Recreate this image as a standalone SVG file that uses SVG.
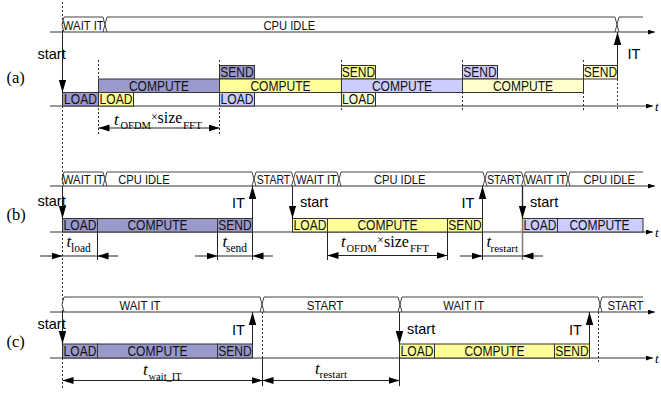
<svg xmlns="http://www.w3.org/2000/svg" width="661" height="395" viewBox="0 0 661 395">
<style>
.ax{stroke:#333;stroke-width:1;fill:none}
.sb{stroke:#444;stroke-width:1;fill:none}
.dot{stroke:#333;stroke-width:1;stroke-dasharray:2 2;fill:none}
.ln{stroke:#222;stroke-width:1;fill:none}
.bx{stroke:#333;stroke-width:1}
.b1{fill:#9999cc}.b2{fill:#ffff99}.b3{fill:#ccccff}.b4{fill:#ffffcc}
.bt{font-family:"Liberation Sans",Arial,sans-serif;font-size:14px;fill:#111;text-anchor:middle}
.st{font-family:"Liberation Sans",Arial,sans-serif;font-size:13px;fill:#111;text-anchor:middle}
.lb{font-family:"Liberation Sans",Arial,sans-serif;font-size:14.5px;fill:#000}
.pl{font-family:"Liberation Serif","Times New Roman",serif;font-size:16.5px;fill:#000}
.mt{font-family:"Liberation Serif","Times New Roman",serif;font-size:17px;font-style:italic;fill:#000}
.mr{font-family:"Liberation Serif","Times New Roman",serif;font-size:16px;fill:#000}
.sub{font-family:"Liberation Serif","Times New Roman",serif;font-size:11px;fill:#000}
.tx{font-family:"Liberation Serif","Times New Roman",serif;font-size:13px;font-style:italic;fill:#000}
</style>
<defs>
<marker id="ah" markerUnits="userSpaceOnUse" markerWidth="14" markerHeight="8" refX="13" refY="3.75" orient="auto"><path d="M0,0 L13,3.75 L0,7.5 z" fill="#000"/></marker>
<marker id="dh" markerUnits="userSpaceOnUse" markerWidth="12" markerHeight="8" refX="11" refY="3.5" orient="auto-start-reverse"><path d="M0,0 L11,3.5 L0,7 z" fill="#000"/></marker>
<marker id="axh" markerUnits="userSpaceOnUse" markerWidth="8" markerHeight="6" refX="7" refY="2.5" orient="auto"><path d="M0,0 L7,2.5 L0,5 z" fill="#000"/></marker>
</defs>

<g id="guides">
<path class="dot" d="M62.5,2 V390"/>
<path class="dot" d="M98.5,60 V135 M219.5,60 V135 M341.5,60 V110 M462.5,60 V110 M583.5,60 V110 M617.5,79 V110"/>
<path class="dot" d="M262.5,312 V358 M598.5,312 V362"/>
</g>

<g id="axes">
<path class="ax" d="M50,32 H655" marker-end="url(#axh)"/>
<path class="ax" d="M50,106 H653" marker-end="url(#axh)"/>
<path class="ax" d="M50,186 H655" marker-end="url(#axh)"/>
<path class="ax" d="M50,232 H653" marker-end="url(#axh)"/>
<path class="ax" d="M50,312 H655" marker-end="url(#axh)"/>
<path class="ax" d="M50,358 H653" marker-end="url(#axh)"/>
<text class="tx" x="655" y="110.5">t</text>
<text class="tx" x="655" y="236.5">t</text>
<text class="tx" x="655" y="362.5">t</text>
</g>

<g id="state-a">
<path class="sb" d="M64,17 L62,24.5 L64,32 M64,17 H103 M103,17 L107,32 M103,32 L107,17 M107,17 H615 M615,17 L619,32 M615,32 L619,17 M619,17 H643"/>
<text class="st" x="83.3" y="29.5" textLength="41" lengthAdjust="spacingAndGlyphs">WAIT IT</text>
<text class="st" x="289.3" y="29.5" textLength="51.6" lengthAdjust="spacingAndGlyphs">CPU IDLE</text>
</g>
<g id="state-b">
<path class="sb" d="M64,172 L62,179 L64,186 M64,172 H103 M103,172 L107,186 M103,186 L107,172 M107,172 H252 M252,172 L256,186 M252,186 L256,172 M256,172 H291.5 M291.5,172 L295.5,186 M291.5,186 L295.5,172 M295.5,172 H337 M337,172 L341,186 M337,186 L341,172 M341,172 H483 M483,172 L487,186 M483,186 L487,172 M487,172 H521.5 M521.5,172 L525.5,186 M521.5,186 L525.5,172 M525.5,172 H566 M566,172 L570,186 M566,186 L570,172 M570,172 H643"/>
<text class="st" x="83.3" y="183.5" textLength="41" lengthAdjust="spacingAndGlyphs">WAIT IT</text>
<text class="st" x="144" y="183.5" textLength="51.6" lengthAdjust="spacingAndGlyphs">CPU IDLE</text>
<text class="st" x="273.5" y="183.5" textLength="33.5" lengthAdjust="spacingAndGlyphs">START</text>
<text class="st" x="316.5" y="183.5" textLength="41" lengthAdjust="spacingAndGlyphs">WAIT IT</text>
<text class="st" x="399.7" y="183.5" textLength="51.6" lengthAdjust="spacingAndGlyphs">CPU IDLE</text>
<text class="st" x="504" y="183.5" textLength="34" lengthAdjust="spacingAndGlyphs">START</text>
<text class="st" x="545.8" y="183.5" textLength="41" lengthAdjust="spacingAndGlyphs">WAIT IT</text>
<text class="st" x="609.2" y="183.5" textLength="51.6" lengthAdjust="spacingAndGlyphs">CPU IDLE</text>
</g>
<g id="state-c">
<path class="sb" d="M64,297 L62,304.5 L64,312 M64,297 H260 M260,297 L264,312 M260,312 L264,297 M264,297 H398 M398,297 L402,312 M398,312 L402,297 M402,297 H598 M598,297 L602,312 M598,312 L602,297 M602,297 H643"/>
<text class="st" x="140" y="309.5" textLength="41" lengthAdjust="spacingAndGlyphs">WAIT IT</text>
<text class="st" x="325" y="309.5" textLength="36.6" lengthAdjust="spacingAndGlyphs">START</text>
<text class="st" x="463.7" y="309.5" textLength="41" lengthAdjust="spacingAndGlyphs">WAIT IT</text>
<text class="st" x="625.5" y="309.5" textLength="36" lengthAdjust="spacingAndGlyphs">START</text>
</g>

<g id="a-load1"><rect class="bx b1" x="62.5" y="92.5" width="36" height="13.5"/><text class="bt" x="80.5" y="104.3" textLength="32.8" lengthAdjust="spacingAndGlyphs">LOAD</text></g>
<g id="a-compute1"><rect class="bx b1" x="98.5" y="79" width="121" height="13.5"/><text class="bt" x="159" y="90.8" textLength="60.2" lengthAdjust="spacingAndGlyphs">COMPUTE</text></g>
<g id="a-load2"><rect class="bx b2" x="98.5" y="92.5" width="35" height="13.5"/><text class="bt" x="116" y="104.3" textLength="32.8" lengthAdjust="spacingAndGlyphs">LOAD</text></g>
<g id="a-send1"><rect class="bx b1" x="219.5" y="65.5" width="35" height="13.5"/><text class="bt" x="237" y="77.3" textLength="33.4" lengthAdjust="spacingAndGlyphs">SEND</text></g>
<g id="a-compute2"><rect class="bx b2" x="219.5" y="79" width="122" height="13.5"/><text class="bt" x="280.5" y="90.8" textLength="60.2" lengthAdjust="spacingAndGlyphs">COMPUTE</text></g>
<g id="a-load3"><rect class="bx b3" x="219.5" y="92.5" width="35" height="13.5"/><text class="bt" x="237" y="104.3" textLength="32.8" lengthAdjust="spacingAndGlyphs">LOAD</text></g>
<g id="a-send2"><rect class="bx b2" x="341.5" y="65.5" width="34" height="13.5"/><text class="bt" x="358.5" y="77.3" textLength="33.4" lengthAdjust="spacingAndGlyphs">SEND</text></g>
<g id="a-compute3"><rect class="bx b3" x="341.5" y="79" width="121" height="13.5"/><text class="bt" x="402" y="90.8" textLength="60.2" lengthAdjust="spacingAndGlyphs">COMPUTE</text></g>
<g id="a-load4"><rect class="bx b4" x="341.5" y="92.5" width="34" height="13.5"/><text class="bt" x="358.5" y="104.3" textLength="32.8" lengthAdjust="spacingAndGlyphs">LOAD</text></g>
<g id="a-send3"><rect class="bx b3" x="462.5" y="65.5" width="35" height="13.5"/><text class="bt" x="480" y="77.3" textLength="33.4" lengthAdjust="spacingAndGlyphs">SEND</text></g>
<g id="a-compute4"><rect class="bx b4" x="462.5" y="79" width="121" height="13.5"/><text class="bt" x="523" y="90.8" textLength="60.2" lengthAdjust="spacingAndGlyphs">COMPUTE</text></g>
<g id="a-send4"><rect class="bx b4" x="583.5" y="65.5" width="34" height="13.5"/><text class="bt" x="600.5" y="77.3" textLength="33.4" lengthAdjust="spacingAndGlyphs">SEND</text></g>

<g id="b-load1"><rect class="bx b1" x="62.5" y="218.5" width="35" height="13.5"/><text class="bt" x="80" y="230.3" textLength="32.8" lengthAdjust="spacingAndGlyphs">LOAD</text></g>
<g id="b-compute1"><rect class="bx b1" x="97.5" y="218.5" width="120" height="13.5"/><text class="bt" x="157.5" y="230.3" textLength="60.2" lengthAdjust="spacingAndGlyphs">COMPUTE</text></g>
<g id="b-send1"><rect class="bx b1" x="217.5" y="218.5" width="35" height="13.5"/><text class="bt" x="235" y="230.3" textLength="33.4" lengthAdjust="spacingAndGlyphs">SEND</text></g>
<g id="b-load2"><rect class="bx b2" x="292.5" y="218.5" width="35" height="13.5"/><text class="bt" x="310" y="230.3" textLength="32.8" lengthAdjust="spacingAndGlyphs">LOAD</text></g>
<g id="b-compute2"><rect class="bx b2" x="327.5" y="218.5" width="120" height="13.5"/><text class="bt" x="387.5" y="230.3" textLength="60.2" lengthAdjust="spacingAndGlyphs">COMPUTE</text></g>
<g id="b-send2"><rect class="bx b2" x="447.5" y="218.5" width="35" height="13.5"/><text class="bt" x="465" y="230.3" textLength="33.4" lengthAdjust="spacingAndGlyphs">SEND</text></g>
<g id="b-load3"><rect class="bx b3" x="522.5" y="218.5" width="35" height="13.5"/><text class="bt" x="540" y="230.3" textLength="32.8" lengthAdjust="spacingAndGlyphs">LOAD</text></g>
<g id="b-compute3"><rect class="bx b3" x="557.5" y="218.5" width="85.5" height="13.5"/><text class="bt" x="599.5" y="230.3" textLength="60.2" lengthAdjust="spacingAndGlyphs">COMPUTE</text></g>

<g id="c-load1"><rect class="bx b1" x="62.5" y="344" width="35" height="14"/><text class="bt" x="80" y="356.2" textLength="32.8" lengthAdjust="spacingAndGlyphs">LOAD</text></g>
<g id="c-compute1"><rect class="bx b1" x="97.5" y="344" width="120" height="14"/><text class="bt" x="157.5" y="356.2" textLength="60.2" lengthAdjust="spacingAndGlyphs">COMPUTE</text></g>
<g id="c-send1"><rect class="bx b1" x="217.5" y="344" width="35" height="14"/><text class="bt" x="235" y="356.2" textLength="33.4" lengthAdjust="spacingAndGlyphs">SEND</text></g>
<g id="c-load2"><rect class="bx b2" x="399.5" y="344" width="35" height="14"/><text class="bt" x="417" y="356.2" textLength="32.8" lengthAdjust="spacingAndGlyphs">LOAD</text></g>
<g id="c-compute2"><rect class="bx b2" x="434.5" y="344" width="120" height="14"/><text class="bt" x="494.5" y="356.2" textLength="60.2" lengthAdjust="spacingAndGlyphs">COMPUTE</text></g>
<g id="c-send2"><rect class="bx b2" x="554.5" y="344" width="35" height="14"/><text class="bt" x="572" y="356.2" textLength="33.4" lengthAdjust="spacingAndGlyphs">SEND</text></g>

<g id="connectors">
<path class="ln" d="M62.5,32 V92.5" marker-end="url(#ah)"/>
<path class="ln" d="M617.5,79 V32" marker-end="url(#ah)"/>
<path class="ln" d="M98.5,128 H219.5" marker-start="url(#dh)" marker-end="url(#dh)"/>

<path d="M522.5,186 V260" stroke="#777" stroke-width="1.5" fill="none"/>
<path class="ln" d="M62.5,186 V218.5" marker-end="url(#ah)"/>
<path class="ln" d="M252.5,218.5 V186" marker-end="url(#ah)"/>
<path class="ln" d="M292.5,186 V218.5" marker-end="url(#ah)"/>
<path class="ln" d="M482.5,218.5 V186" marker-end="url(#ah)"/>
<path class="ln" d="M522.5,186 V218.5" marker-end="url(#ah)"/>
<path class="ln" d="M97.5,232 V260 M217.5,232 V260 M252.5,232 V260 M327.5,232 V260 M447.5,232 V260 M482.5,232 V260"/>
<path class="ln" d="M40,256 H62.5" marker-end="url(#dh)"/>
<path class="ln" d="M118,256 H97.5" marker-end="url(#dh)"/>
<path class="ln" d="M62.5,256 H97.5"/>
<path class="ln" d="M195,256 H217.5" marker-end="url(#dh)"/>
<path class="ln" d="M273,256 H252.5" marker-end="url(#dh)"/>
<path class="ln" d="M217.5,256 H252.5"/>
<path class="ln" d="M327.5,255.5 H447.5" marker-start="url(#dh)" marker-end="url(#dh)"/>
<path class="ln" d="M460,256 H482.5" marker-end="url(#dh)"/>
<path class="ln" d="M543,256 H522.5" marker-end="url(#dh)"/>
<path class="ln" d="M482.5,256 H522.5"/>

<path class="ln" d="M62.5,312 V344" marker-end="url(#ah)"/>
<path class="ln" d="M252.5,344 V312" marker-end="url(#ah)"/>
<path class="ln" d="M399.5,312 V344" marker-end="url(#ah)"/>
<path class="ln" d="M589.5,344 V312" marker-end="url(#ah)"/>
<path class="ln" d="M262.5,358 V386 M399.5,358 V386"/>
<path class="ln" d="M62.5,380.5 H262.5" marker-start="url(#dh)" marker-end="url(#dh)"/>
<path class="ln" d="M262.5,380.5 H399.5" marker-start="url(#dh)" marker-end="url(#dh)"/>
</g>

<g id="labels">
<text class="pl" x="6.5" y="83">(a)</text>
<text class="pl" x="6.5" y="220">(b)</text>
<text class="pl" x="6.5" y="347">(c)</text>
<text class="lb" x="37.5" y="59">start</text>
<text class="lb" x="627.5" y="59">IT</text>
<text class="lb" x="37.5" y="206">start</text>
<text class="lb" x="232" y="207.5">IT</text>
<text class="lb" x="300" y="207">start</text>
<text class="lb" x="461.5" y="207.5">IT</text>
<text class="lb" x="530" y="206.5">start</text>
<text class="lb" x="37.5" y="329">start</text>
<text class="lb" x="232" y="334.5">IT</text>
<text class="lb" x="407" y="333.5">start</text>
<text class="lb" x="569" y="334.5">IT</text>
</g>

<g id="dimensions">
<text class="mt" x="114" y="125">t</text><text class="sub" x="120.5" y="128.5" style="font-size:10.5px">OFDM</text><text class="mr" x="151" y="121" style="font-size:12px">×</text><text class="mr" x="157.5" y="123">size</text><text class="sub" x="183" y="129">FFT</text>
<text class="mt" x="66.5" y="246.7">t</text><text class="sub" x="71" y="252" style="font-size:11.5px">load</text>
<text class="mt" x="222.5" y="246.7">t</text><text class="sub" x="226" y="252" style="font-size:11.5px">send</text>
<text class="mt" x="341" y="247">t</text><text class="sub" x="346.5" y="251.5" style="font-size:10.5px">OFDM</text><text class="mr" x="377" y="244" style="font-size:12px">×</text><text class="mr" x="384" y="247">size</text><text class="sub" x="410" y="252">FFT</text>
<text class="mt" x="486.5" y="246.7">t</text><text class="sub" x="490.5" y="252">restart</text>
<text class="mt" x="143" y="375">t</text><text class="sub" x="148.5" y="379.5" style="font-size:10.5px">wait_IT</text>
<text class="mt" x="315" y="374">t</text><text class="sub" x="319.5" y="378">restart</text>
</g>
</svg>
